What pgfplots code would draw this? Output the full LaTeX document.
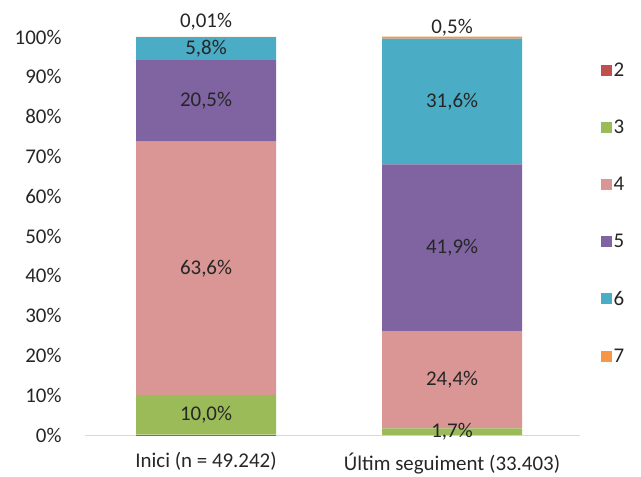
\documentclass[border=0pt]{standalone}
\usepackage{fontspec}
\setmainfont{Carlito}
\usepackage{pgfplots}
\usepackage{pgfplotstable}
\pgfplotsset{compat=1.18}

\definecolor{c2}{HTML}{C0504D}
\definecolor{c3}{HTML}{9BBB59}
\definecolor{c4}{HTML}{D99694}
\definecolor{c5}{HTML}{8064A2}
\definecolor{c6}{HTML}{4BACC6}
\definecolor{c7}{HTML}{F79646}
\definecolor{txt}{HTML}{262626}

% x: 0 = Inici, 1 = Ultim seguiment
\pgfplotstableread{
x  s2    s3    s4    s5    s6    s7
0  0.09  10.0  63.6  20.5  5.8   0.01
1  0.0   1.7   24.4  41.9  31.6  0.5
}\dades

% 10.0 -> 10,0
\def\coma#1.#2\relax{#1,#2}
\newcommand\lletra{\fontsize{21}{25}\selectfont}
\pgfplotsset{
    etiqueta/.style={
        point meta=explicit symbolic,
        nodes near coords={\expandafter\coma\pgfplotspointmeta\relax\%},
    },
    % stacked bars already put the label in the middle of each segment
    centrat/.style={
        etiqueta,
        every node near coord/.append style={anchor=center},
    },
}

\begin{document}
\begin{tikzpicture}
\begin{axis}[
    name=ax,
    x=246bp, y=3.98bp,
    xmin=-0.492, xmax=1.52,
    ymin=0, ymax=100,
    clip=false,
    ybar stacked,
    bar width=140bp,
    axis x line=bottom,
    axis y line=left,
    y axis line style={draw=none},
    x axis line style={-, draw=black!15, line width=0.8pt},
    major tick length=0pt,
    xtick={0,1},
    xticklabels={Inici (n = 49.242), Últim seguiment (33.403)},
    ytick={0,10,...,100},
    yticklabels={0\%,10\%,20\%,30\%,40\%,50\%,60\%,70\%,80\%,90\%,100\%},
    tick label style={font=\lletra, text=txt},
    yticklabel style={xshift=-20bp},
    xticklabel style={yshift=-14bp},
    legend style={draw=none, fill=none, at={(1.035,0.945)}, anchor=north west,
        font=\lletra, text=txt,
        row sep=38bp, /tikz/every even column/.append style={column sep=4bp}},
    legend image code/.code={\fill[#1] (0bp,-5.5bp) rectangle (11bp,5.5bp);},
    legend cell align=left,
    every node near coord/.append style={font=\lletra, text=txt},
]
\addplot[fill=c2, draw=none] table[x=x, y=s2] {\dades};
\addlegendentry{2}
\addplot[fill=c3, draw=none, centrat] table[x=x, y=s3, meta=s3] {\dades};
\addlegendentry{3}
\addplot[fill=c4, draw=none, centrat] table[x=x, y=s4, meta=s4] {\dades};
\addlegendentry{4}
\addplot[fill=c5, draw=none, centrat] table[x=x, y=s5, meta=s5] {\dades};
\addlegendentry{5}
\addplot[fill=c6, draw=none, centrat] table[x=x, y=s6, meta=s6] {\dades};
\addlegendentry{6}
\addplot[fill=c7, draw=none, etiqueta,
    every node near coord/.append style={anchor=south, yshift={(\pgfplotspointmeta<0.1 ? 3 : -2)*1bp}}]
    table[x=x, y=s7, meta=s7] {\dades};
\addlegendentry{7}
\end{axis}
\path ([xshift=-85bp,yshift=-38bp]ax.south west) rectangle ([xshift=61bp,yshift=37bp]ax.north east);
\end{tikzpicture}
\end{document}
